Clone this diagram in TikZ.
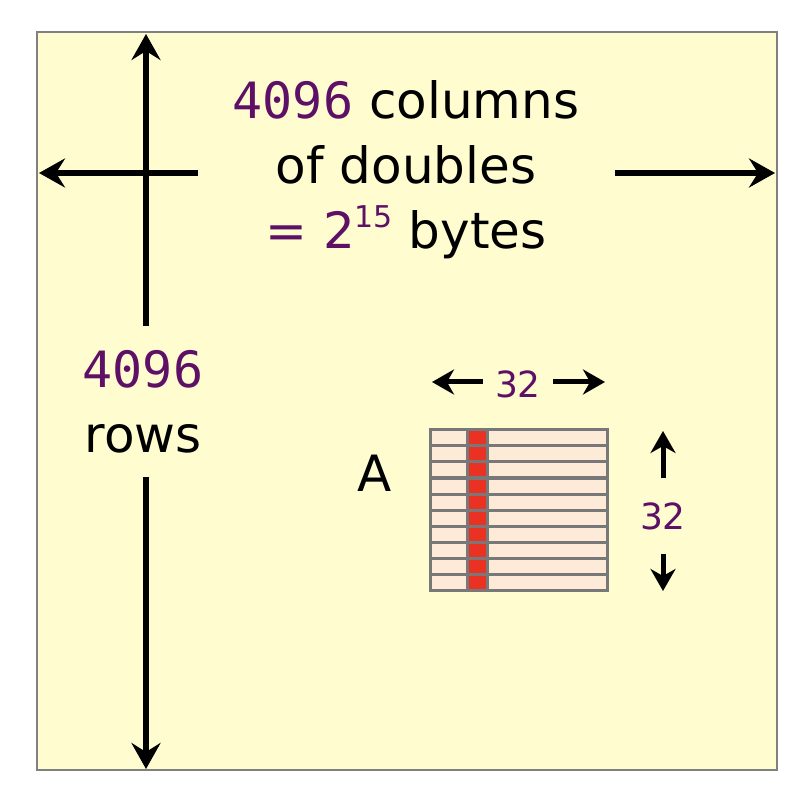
\documentclass[tikz,border=0pt]{standalone}
\usepackage{fontspec}
\setmainfont{DejaVu Sans}
\newfontfamily\monofnt{DejaVu Sans Mono}
\usetikzlibrary{arrows.meta}
\definecolor{bgyellow}{RGB}{255,253,208}
\definecolor{framegray}{RGB}{128,128,128}
\definecolor{numpurple}{RGB}{94,16,102}
\definecolor{cellfill}{RGB}{253,235,216}
\definecolor{cellred}{RGB}{233,50,35}
\definecolor{cellline}{RGB}{120,120,120}
\tikzset{
  bigarrow/.style={line width=6.5pt,-{Stealth[length=26pt,width=29pt,inset=9pt]}},
  smallarrow/.style={line width=5pt,-{Stealth[length=22pt,width=25pt,inset=7pt]}},
  bigtext/.style={font=\fontsize{50}{65}\selectfont,align=center,inner sep=0pt},
  smalltext/.style={font=\fontsize{36}{40}\selectfont,text=numpurple,inner sep=0pt},
  cellbox/.style={draw=cellline,line width=3pt,fill=cellfill},
  redbox/.style={draw=cellline,line width=3pt,fill=cellred},
}
\newcommand{\pnum}[1]{{\monofnt\color{numpurple}#1}}
\begin{document}
\begin{tikzpicture}[x=1pt,y=-1pt]
\useasboundingbox (0,0) rectangle (812,794);
\draw[framegray,line width=2pt,fill=bgyellow] (37,32) rectangle (777,770);
% anchor coordinates
\coordinate (vtop) at (146,34);
\coordinate (vtopstart) at (146,326);
\coordinate (vbotstart) at (146,477);
\coordinate (vbot) at (146,769);
\coordinate (hleftstart) at (198,173);
\coordinate (hleft) at (39,173);
\coordinate (hrightstart) at (615,173);
\coordinate (hright) at (775,173);
\draw[bigarrow] (vtopstart) -- (vtop);
\draw[bigarrow] (vbotstart) -- (vbot);
\draw[bigarrow] (hleftstart) -- (hleft);
\draw[bigarrow] (hrightstart) -- (hright);
% texts
\node[bigtext] (cols) at (406,170) {\pnum{4096} columns\\of doubles\\{\color{numpurple}= 2\raisebox{0.42em}{\fontsize{30}{30}\selectfont 15}} bytes};
\node[bigtext] (rows) at (143,402) {\pnum{4096}\\rows};
\node[bigtext] (A) at (375,473) {A};
% grid
\foreach \i in {0,...,9}{
  \draw[cellbox] (430,430+16*\i) rectangle (607,446+16*\i);
}
\foreach \i in {0,...,9}{
  \draw[redbox] (467,430+16*\i) rectangle (487,446+16*\i);
}
% 32 labels
\node[smalltext] (wlab) at (518,384) {32};
\coordinate (wl) at (432,382);
\coordinate (wr) at (605,382);
\draw[smallarrow] (wlab.west) ++(-12,-2) -- (wl);
\draw[smallarrow] (wlab.east) ++(12,-2) -- (wr);
\node[smalltext] (hlab) at (663,516) {32};
\coordinate (hu) at (663,431);
\coordinate (hd) at (663,591);
\draw[smallarrow] (hlab.north) ++(0,-24) -- (hu);
\draw[smallarrow] (hlab.south) ++(0,24) -- (hd);
\end{tikzpicture}
\end{document}
